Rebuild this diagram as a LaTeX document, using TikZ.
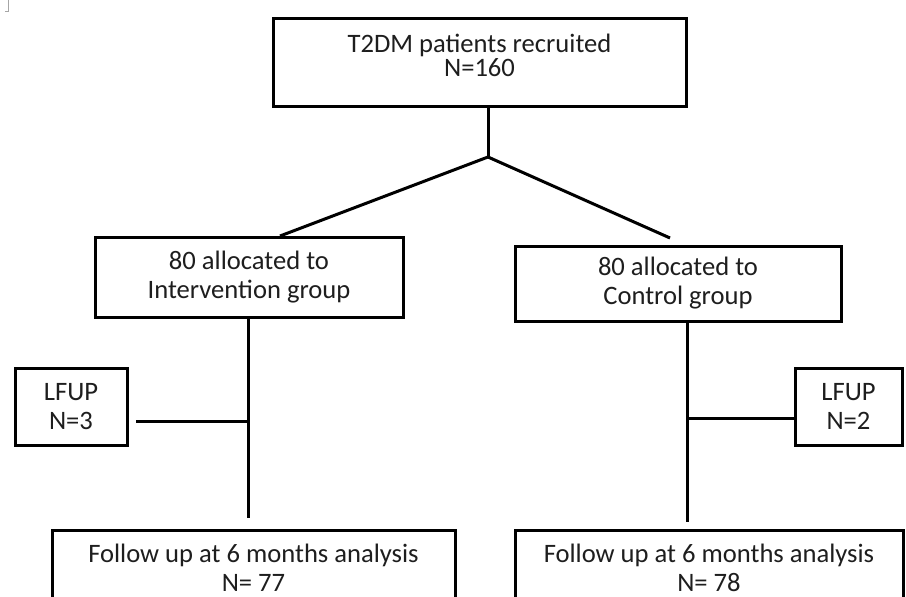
\documentclass[tikz,border=0pt]{standalone}
\usepackage{fontspec}
\setmainfont{Carlito}
\usepackage{tikz}
\usetikzlibrary{positioning, calc}
\definecolor{mydark}{RGB}{0,0,0}
\definecolor{mytext}{RGB}{30,30,30}
\tikzset{
  boxtext/.style={align=center, inner sep=0pt, text=mytext,
    font=\fontsize{26.6}{29}\selectfont},
  box/.style={rectangle, draw=mydark, fill=white, line width=3pt, boxtext},
  link/.style={line width=3pt, color=mydark},
  cropmark/.style={line width=1pt, color=black!35}
}

\begin{document}
\begin{tikzpicture}[x=1pt, y=-1pt]
  \useasboundingbox (0,0) rectangle (906,597);
  \clip (0,0) rectangle (906,597);
  \draw[cropmark] (8,0) -- (8,11) -- (5,11);

  \node[box, minimum width=413, minimum height=88,
    label={[boxtext, yshift=6.5]center:T2DM patients recruited\\[-4.5pt]N=160}] (recruited) at (479.5,62) {};
  \node[box, minimum width=308, minimum height=80] (interv) at (249,277) {80 allocated to\\Intervention group};
  \node[box, minimum width=326, minimum height=75] (control) at (678,283.5) {80 allocated to\\Control group};
  \node[box, minimum width=112, minimum height=77] (lfupl) at (71,406.5) {LFUP\\N=3};
  \node[box, minimum width=107, minimum height=77] (lfupr) at (848.5,406.5) {LFUP\\N=2};
  \node[box, minimum width=403, minimum height=80,
    label={[boxtext, yshift=2]center:Follow up at 6 months analysis\\N= 77}] (followl) at (253.5,570) {};
  \node[box, minimum width=388, minimum height=80,
    label={[boxtext, yshift=2]center:Follow up at 6 months analysis\\N= 78}] (followr) at (709,570) {};

  \coordinate (split) at (488,157);
  \coordinate (lend) at (280,236);
  \coordinate (rend) at (670,238);
  \coordinate (ldrop) at (248,518);
  \coordinate (rdrop) at (687,522);
  \coordinate (lbranch) at (248,421);
  \coordinate (lstub) at (136,421);
  \coordinate (rbranch) at (687,418);

  \draw[link] (split |- recruited.south) -- (split);
  \draw[link] (split) -- (lend);
  \draw[link] (split) -- (rend);
  \draw[link] (ldrop |- interv.south) -- (ldrop);
  \draw[link] (lbranch) -- (lstub);
  \draw[link] (rdrop |- control.south) -- (rdrop);
  \draw[link] (rbranch) -- (rbranch -| lfupr.west);
\end{tikzpicture}
\end{document}
